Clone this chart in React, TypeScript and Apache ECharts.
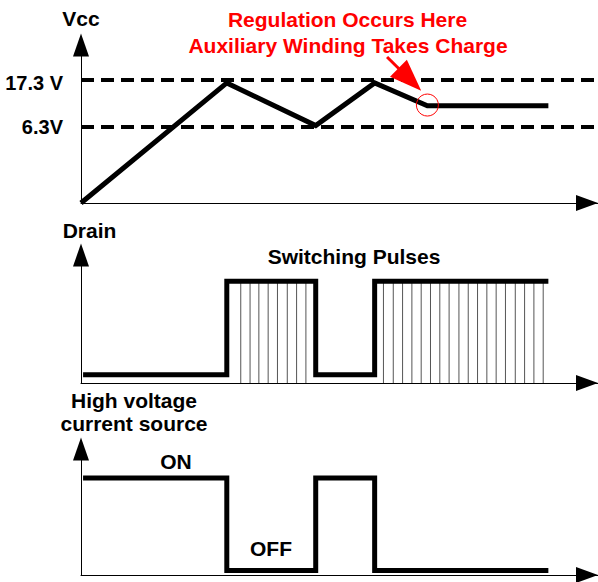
import React, { useEffect, useRef } from 'react';
import * as echarts from 'echarts';

// ---------- data (schematic units: time 0..100, level 0..100 per panel) ----------
const X_MAX = 100;
const Y_MAX = 100;

// Vcc panel
const vccTime = [0, 28.2, 45.4, 56.8, 67.0, 90.4];
const vccLevel = [0, 76, 49, 76, 61.5, 61.5];
const thresholdValues = [48.3, 77.8];
const thresholdLabels = ['6.3V', '17.3 V'];
const regulationPoint = [67.0, 62];
const calloutStart = [59.2, 92.4];
const calloutEnd = [63.6, 78.2];
const calloutLines = ['Regulation Occurs Here', 'Auxiliary Winding Takes Charge'];

// Drain panel
const drainTime = [0.4, 28.2, 28.2, 45.4, 45.4, 56.8, 56.8, 90.4];
const drainLevel = [6.5, 6.5, 79.5, 79.5, 6.5, 6.5, 79.5, 79.5];
const pulseTimes = [
  30.9, 32.7, 34.4, 36.2, 38.0, 39.9, 41.7, 43.5,
  58.5, 60.4, 62.2, 64.0, 65.8, 67.6, 69.4, 71.2, 73.1, 74.9, 76.7, 78.5, 80.3, 82.1, 84.0, 85.8, 87.6, 89.4,
];
const pulseLevel = 79.5;
const pulseCaption = 'Switching Pulses';

// High-voltage current source panel
const hvTime = [0.4, 28.2, 28.2, 45.4, 45.4, 56.8, 56.8, 90.4];
const hvLevel = [77, 77, 3.6, 3.6, 77, 77, 3.6, 3.6];
const stateLabels = ['ON', 'OFF'];

const axisNames = ['Vcc', 'Drain', 'High voltage\ncurrent source'];

// ---------- styling ----------
const FONT = '"Liberation Sans", Arial, Helvetica, sans-serif';
const boldText = { fontFamily: FONT, fontWeight: 'bold' as const, fontSize: 21, color: '#000' };

const grids = [
  { left: 81, right: 0, top: 45, bottom: 379 },
  { left: 81, right: 0, top: 255, bottom: 199 },
  { left: 81, right: 0, top: 449, bottom: 7 },
];

function nearestIndex(arr: number[], v: number) {
  let best = 0;
  for (let i = 1; i < arr.length; i++) if (Math.abs(arr[i] - v) < Math.abs(arr[best] - v)) best = i;
  return best;
}

function textEl(text: string, x: number, y: number, fill = '#000') {
  return {
    type: 'text',
    x,
    y,
    silent: true,
    style: {
      text,
      fill,
      fontFamily: FONT,
      fontWeight: 'bold',
      fontSize: 21,
      align: 'center',
      textAlign: 'center',
      verticalAlign: 'middle',
      textVerticalAlign: 'middle',
    },
  };
}

function buildOption() {
  const xAxis = grids.map((_, i) => ({
    type: 'value',
    gridIndex: i,
    min: 0,
    max: X_MAX,
    axisLine: {
      show: true,
      onZero: false,
      symbol: ['none', 'triangle'],
      symbolSize: [16, 22],
      symbolOffset: [0, -11],
      lineStyle: { color: '#000', width: 1 },
    },
    axisTick: { show: false },
    axisLabel: { show: false },
    splitLine: { show: false },
  }));

  const nameGaps = [15, 13, 14];
  const namePads = [[0, 0, 0, 0], [0, 0, 0, 17], [0, 0, 0, 106]];
  const yAxis = grids.map((_, i) => ({
    type: 'value',
    gridIndex: i,
    min: 0,
    max: Y_MAX,
    name: axisNames[i],
    nameLocation: 'end',
    nameGap: nameGaps[i],
    nameMoveOverlap: false,
    nameTextStyle: { ...boldText, lineHeight: 23, padding: namePads[i] },
    axisLine: {
      show: true,
      onZero: false,
      symbol: ['none', 'triangle'],
      symbolSize: [16, 23],
      lineStyle: { color: '#000', width: 1 },
    },
    axisTick: { show: false },
    splitLine: { show: false },
    axisLabel:
      i === 0
        ? {
            show: true,
            customValues: thresholdValues,
            margin: 18,
            ...boldText,
            fontSize: 20,
            formatter: (v: number) => {
              const k = nearestIndex(thresholdValues, v);
              return k === 1 ? `{hi|${thresholdLabels[k]}}` : thresholdLabels[k];
            },
            rich: { hi: { ...boldText, fontSize: 20, padding: [6, 0, 0, 0] } },
          }
        : { show: false },
  }));

  const lineBase = {
    type: 'line',
    symbol: 'none',
    showSymbol: false,
    silent: true,
    z: 3,
    lineStyle: { color: '#000', width: 5, join: 'miter', cap: 'butt' },
  };

  return {
    animation: false,
    backgroundColor: '#fff',
    grid: grids.map((g) => ({ ...g, containLabel: false, outerBoundsMode: 'none' })),
    xAxis,
    yAxis,
    graphic: [
      textEl(calloutLines[0], 347.5, 19.5, '#f00'),
      textEl(calloutLines[1], 348, 45, '#f00'),
      textEl(pulseCaption, 354, 256.5),
      textEl(stateLabels[0], 176, 461),
      textEl(stateLabels[1], 271, 548),
    ],
    series: [
      {
        ...lineBase,
        name: 'Vcc',
        xAxisIndex: 0,
        yAxisIndex: 0,
        data: vccTime.map((t, i) => [t, vccLevel[i]]),
        markLine: {
          silent: true,
          symbol: 'none',
          label: { show: false },
          emphasis: { disabled: true },
          lineStyle: { color: '#000', width: 4, type: [13, 7] },
          data: [
            ...thresholdValues.map((v) => ({ yAxis: v })),
            [
              { coord: calloutStart, symbol: 'none', lineStyle: { color: '#f00', width: 3, type: 'solid' } },
              { coord: calloutEnd, symbol: 'triangle', symbolSize: [24, 32] },
            ],
          ],
        },
        markPoint: {
          silent: true,
          symbol: 'circle',
          symbolSize: 22,
          label: { show: false },
          itemStyle: { color: 'rgba(0,0,0,0)', borderColor: '#f00', borderWidth: 1 },
          data: [{ coord: regulationPoint }],
        },
      },
      {
        type: 'bar',
        name: 'pulses',
        xAxisIndex: 1,
        yAxisIndex: 1,
        silent: true,
        z: 1,
        barWidth: 1,
        itemStyle: { color: '#555' },
        data: pulseTimes.map((t) => [t, pulseLevel]),
      },
      {
        ...lineBase,
        name: 'Drain',
        xAxisIndex: 1,
        yAxisIndex: 1,
        data: drainTime.map((t, i) => [t, drainLevel[i]]),
      },
      {
        ...lineBase,
        name: 'HV current source',
        xAxisIndex: 2,
        yAxisIndex: 2,
        data: hvTime.map((t, i) => [t, hvLevel[i]]),
      },
    ],
  };
}

export default function App() {
  const ref = useRef<HTMLDivElement>(null);
  useEffect(() => {
    if (!ref.current) return;
    const chart = echarts.init(ref.current, undefined, { renderer: 'svg' });
    chart.setOption(buildOption() as any);
    return () => chart.dispose();
  }, []);
  return (
    <div
      ref={ref}
      style={{ position: 'fixed', left: 0, top: 0, width: 598, height: 582, background: '#fff' }}
    />
  );
}
